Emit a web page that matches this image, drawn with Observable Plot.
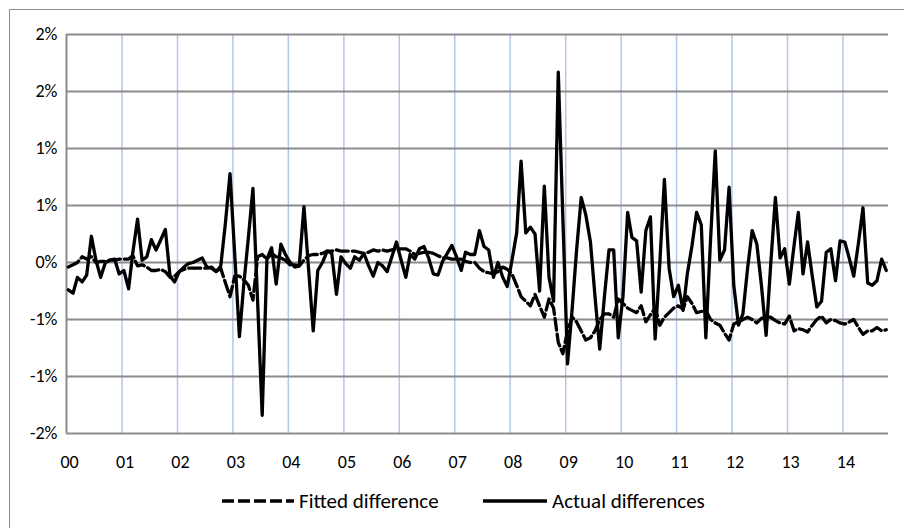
<!DOCTYPE html>
<html>
<head>
<meta charset="utf-8">
<script src="https://cdn.jsdelivr.net/npm/d3@7"></script>
<script src="https://cdn.jsdelivr.net/npm/@observablehq/plot@0.6"></script>
<style>
  html, body { margin: 0; padding: 0; background: #fff; }
  #wrap { position: relative; width: 904px; height: 528px; overflow: hidden; font-family: Carlito, Lato, "Liberation Sans", sans-serif; }
  #frame { position: absolute; left: 9px; top: 9px; width: 902px; height: 540px; border: 1px solid #8c8c8c; box-sizing: border-box; }
  #chart { position: absolute; left: 0; top: 0; }
  #legend { position: absolute; left: 0; top: 488px; width: 904px; height: 26px; font-size: 21px; color: #000; }
  #legend .item { position: absolute; top: 0; display: flex; align-items: center; height: 26px; }
  #legend svg { margin-right: 5px; }
</style>
</head>
<body>
<div id="wrap">
  <div id="frame"></div>
  <div id="chart"></div>
  <div id="legend"></div>
</div>
<script>
// ---- data (monthly, Jan 2000 .. Oct 2014), values in percent ----
const startYear = 2000;
const seriesNames = ["Fitted difference", "Actual differences"];
const fitted = [
 -0.04,-0.02,0.00,0.05,0.03,0.05,0.00,0.01,0.01,0.02,0.02,0.03,
 0.03,0.03,0.06,-0.03,-0.02,-0.04,-0.07,-0.07,-0.06,-0.08,-0.13,-0.12,
 -0.08,-0.06,-0.05,-0.05,-0.05,-0.05,-0.05,-0.04,-0.08,-0.05,-0.18,-0.30,
 -0.12,-0.12,-0.15,-0.20,-0.33,0.05,0.07,0.03,0.08,0.05,0.04,0.02,
 -0.02,-0.02,-0.03,0.02,0.06,0.07,0.07,0.08,0.10,0.10,0.11,0.10,
 0.10,0.10,0.10,0.09,0.08,0.09,0.11,0.10,0.11,0.10,0.11,0.12,
 0.12,0.12,0.10,0.07,0.08,0.09,0.09,0.08,0.06,0.04,0.04,0.03,
 0.03,0.03,0.01,0.00,0.00,-0.05,-0.08,-0.09,-0.10,-0.08,-0.04,-0.06,
 -0.10,-0.20,-0.30,-0.34,-0.38,-0.28,-0.38,-0.48,-0.32,-0.40,-0.70,-0.80,
 -0.60,-0.48,-0.52,-0.60,-0.68,-0.66,-0.60,-0.50,-0.45,-0.45,-0.48,-0.32,
 -0.36,-0.40,-0.42,-0.44,-0.38,-0.52,-0.46,-0.40,-0.55,-0.48,-0.44,-0.40,
 -0.38,-0.41,-0.30,-0.36,-0.44,-0.43,-0.42,-0.50,-0.53,-0.55,-0.62,-0.68,
 -0.54,-0.52,-0.50,-0.48,-0.50,-0.53,-0.49,-0.48,-0.48,-0.51,-0.53,-0.54,
 -0.47,-0.60,-0.58,-0.59,-0.61,-0.55,-0.50,-0.47,-0.53,-0.50,-0.51,-0.53,
 -0.54,-0.52,-0.50,-0.57,-0.63,-0.60,-0.60,-0.57,-0.60,-0.59
];
const actual = [
 -0.24,-0.27,-0.13,-0.17,-0.11,0.23,0.02,-0.13,0.00,0.02,0.03,-0.10,
 -0.07,-0.23,0.09,0.38,0.02,0.05,0.20,0.11,0.20,0.29,-0.12,-0.17,
 -0.08,-0.04,-0.01,0.00,0.02,0.04,-0.04,-0.05,-0.08,-0.03,0.35,0.78,
 0.07,-0.65,-0.20,0.22,0.65,-0.35,-1.34,0.03,0.13,-0.19,0.16,0.07,
 0.00,-0.04,-0.03,0.49,-0.05,-0.60,-0.07,0.00,0.10,0.08,-0.28,0.05,
 -0.01,-0.05,0.05,0.02,0.08,-0.03,-0.12,0.00,-0.03,-0.08,0.05,0.18,
 0.02,-0.13,0.07,0.03,0.12,0.14,0.04,-0.10,-0.11,0.01,0.08,0.15,
 0.05,-0.07,0.09,0.07,0.07,0.28,0.14,0.11,-0.13,0.00,-0.13,-0.21,
 0.02,0.26,0.89,0.26,0.31,0.25,-0.25,0.67,-0.13,-0.34,1.67,0.40,
 -0.89,-0.40,0.10,0.57,0.42,0.18,-0.30,-0.76,-0.30,0.11,0.11,-0.66,
 -0.30,0.44,0.22,0.19,-0.26,0.28,0.40,-0.67,0.00,0.73,-0.05,-0.30,
 -0.20,-0.42,-0.10,0.15,0.44,0.33,-0.66,0.20,0.98,0.02,0.11,0.66,
 -0.20,-0.55,-0.45,-0.05,0.28,0.16,-0.20,-0.64,0.00,0.57,0.04,0.12,
 -0.19,0.15,0.44,-0.10,0.18,-0.12,-0.39,-0.34,0.09,0.12,-0.16,0.19,
 0.18,0.03,-0.12,0.17,0.48,-0.18,-0.20,-0.16,0.03,-0.07
];
const yearLabels = ["00","01","02","03","04","05","06","07","08","09","10","11","12","13","14"];
const yTicks = [2, 1.5, 1, 0.5, 0, -0.5, -1, -1.5];
const yTickLabels = ["2%","2%","1%","1%","0%","-1%","-1%","-2%"];

// ---- build tables ----
const dateOf = i => new Date(Date.UTC(startYear, i, 13));
const rows = [];
fitted.forEach((v, i) => rows.push({date: dateOf(i), value: v, series: seriesNames[0]}));
actual.forEach((v, i) => rows.push({date: dateOf(i), value: v, series: seriesNames[1]}));
const yearTicks = yearLabels.map((_, k) => new Date(Date.UTC(startYear + k, 0, 1)));
const xDomain = [new Date(Date.UTC(startYear, 0, 1)), new Date(Date.UTC(2014, 9, 28))];

const gridGray = "#8c8c8c";
const gridBlue = "#b4c7e7";
const dash = "12,4";
const lineW = 3.3;

const chart = Plot.plot({
  width: 904,
  height: 480,
  marginLeft: 66,
  marginRight: 16,
  marginTop: 34,
  marginBottom: 47,
  style: {fontFamily: "Carlito, Lato, 'Liberation Sans', sans-serif", fontSize: "18px", background: "transparent", color: "#000"},
  x: {type: "utc", domain: xDomain, label: null},
  y: {domain: [-1.5, 2], label: null},
  marks: [
    Plot.ruleX(yearTicks.slice(1), {stroke: gridBlue, strokeWidth: 1.5}),
    Plot.ruleY(yTicks, {stroke: gridGray, strokeWidth: 2}),
    Plot.ruleX(yearTicks.slice(0, 1), {stroke: gridGray, strokeWidth: 2}),
    Plot.line(rows.filter(d => d.series === seriesNames[0]), {x: "date", y: "value", stroke: "#000", strokeWidth: lineW, strokeDasharray: dash, strokeLinejoin: "round"}),
    Plot.line(rows.filter(d => d.series === seriesNames[1]), {x: "date", y: "value", stroke: "#000", strokeWidth: lineW, strokeLinejoin: "round"}),
    Plot.axisX(yearTicks, {tickSize: 0, tickPadding: 22, tickFormat: (d, i) => yearLabels[i], dx: 3, fill: "#000", label: null}),
    Plot.axisY(yTicks, {tickSize: 0, tickPadding: 9, tickFormat: (d, i) => yTickLabels[i], fill: "#000", label: null})
  ]
});
document.getElementById("chart").appendChild(chart);

// ---- legend ----
const legend = document.getElementById("legend");
legend.innerHTML = `
  <div class="item" style="left:222px"><svg width="72" height="10"><line x1="0" y1="5" x2="72" y2="5" stroke="#000" stroke-width="${lineW}" stroke-dasharray="${dash}"/></svg><span>${seriesNames[0]}</span></div>
  <div class="item" style="left:483px"><svg width="64" height="10"><line x1="0" y1="5" x2="64" y2="5" stroke="#000" stroke-width="${lineW}"/></svg><span>${seriesNames[1]}</span></div>`;
</script>
</body>
</html>
